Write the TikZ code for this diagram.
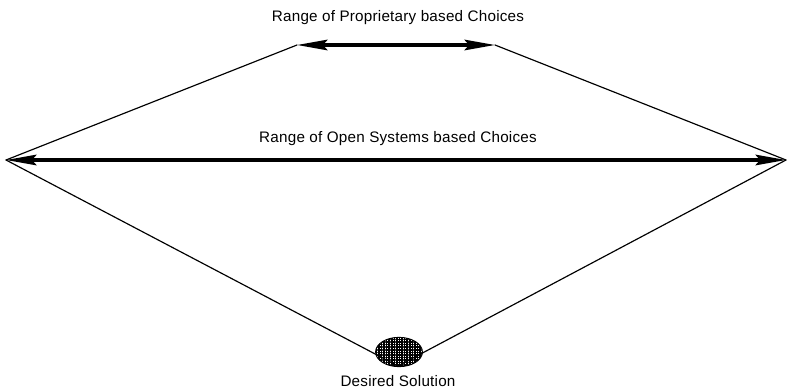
\documentclass[tikz,border=0pt]{standalone}
\usepackage{fontspec}
\setsansfont[LetterSpace=1.5]{Liberation Sans}
\usetikzlibrary{arrows.meta,shapes.geometric,patterns.meta}
\begin{document}
\begin{tikzpicture}[x=0.3mm,y=-0.3mm,line join=round,line cap=round,font=\sffamily\fontsize{13}{15}\selectfont,
  choicerange/.style={line width=2.8pt,{Stealth[length=26pt,width=9pt,inset=4pt]}-{Stealth[length=26pt,width=9pt,inset=4pt]}},
  lbl/.style={inner sep=0pt}]
	\useasboundingbox (0,0) rectangle (789,391);
	\path (6,160) coordinate (L)
		(297,45) coordinate (TL)
		(495,45) coordinate (TR)
		(786,160) coordinate (R)
		(398,366) coordinate (B);
	\draw[line width=1pt] (L)--(TL) (TR)--(R);
	\draw[choicerange] (TL)--(TR);
	\draw[choicerange] (L)--(R);
	\draw[line width=1pt] (L)--(B)--(R);
	\node[ellipse,draw=black,line width=0.8pt,minimum width=40,minimum height=25,inner sep=0pt,
	  pattern={Lines[distance=2.2pt,line width=1.3pt]},
	  postaction={pattern={Lines[distance=2.2pt,angle=90,line width=1.3pt]}}] (sol) at (399,352) {};
	% texts
	\node[lbl] (prop) at (398,18) {Range of Proprietary based Choices};
	\node[lbl] (open) at (398,139) {Range of Open Systems based Choices};
	\node[lbl] (des) at (398,381) {Desired Solution};
\end{tikzpicture}
\end{document}
